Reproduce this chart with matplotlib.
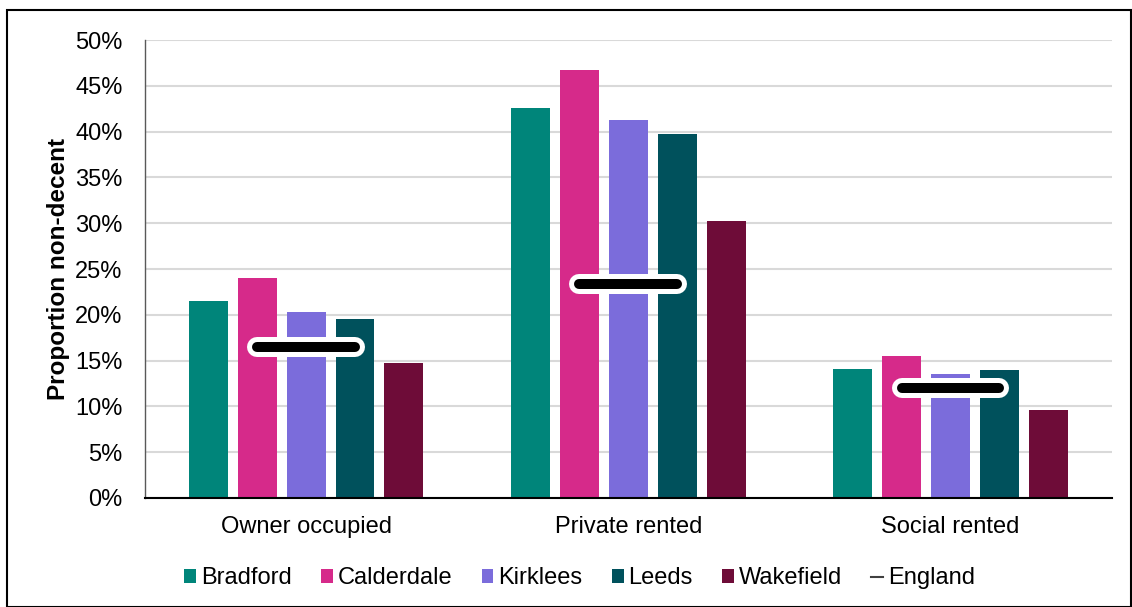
import matplotlib
matplotlib.use("Agg")
import matplotlib.pyplot as plt
import matplotlib.patheffects as pe
from matplotlib.patches import Rectangle
from matplotlib.lines import Line2D
import numpy as np

plt.rcParams['font.family'] = ['Liberation Sans', 'DejaVu Sans']

categories = ["Owner occupied", "Private rented", "Social rented"]
areas = ["Bradford", "Calderdale", "Kirklees", "Leeds", "Wakefield"]
values = {
    "Bradford":   [21.5, 42.6, 14.1],
    "Calderdale": [24.0, 46.7, 15.5],
    "Kirklees":   [20.3, 41.3, 13.5],
    "Leeds":      [19.5, 39.7, 14.0],
    "Wakefield":  [14.7, 30.2, 9.6],
}
england = [16.5, 23.4, 12.0]
colors = ["#00857a", "#d62a8a", "#7b6cdb", "#00515c", "#6e0c38"]
yticks = [0, 5, 10, 15, 20, 25, 30, 35, 40, 45, 50]

fig = plt.figure(figsize=(11.32, 6.07), dpi=100)
ax = fig.add_axes([0.128, 0.1796, 0.854, 0.7544])

x = np.arange(len(categories))
width = 0.121
step = 0.152
for i, (name, c) in enumerate(zip(areas, colors)):
    ax.bar(x + (i - 2) * step, values[name], width=width, color=c, label=name, zorder=2)

half = 0.152
for xi, v in zip(x, england):
    ax.plot([xi - half, xi + half], [v, v], color="black", lw=7.2, solid_capstyle="round",
            zorder=4, path_effects=[pe.Stroke(linewidth=14.4, foreground="white"), pe.Normal()])

ax.set_xlim(-0.5, 2.5)
ax.set_ylim(0, 50)
ax.set_yticks(yticks)
ax.set_yticklabels([f"{t}%" for t in yticks])
ax.set_xticks(x)
ax.set_xticklabels(categories)
ax.tick_params(axis='both', labelsize=17, length=0, colors='black')
ax.tick_params(axis='x', pad=13)
ax.tick_params(axis='y', pad=16)
ax.grid(axis='y', color='#d9d9d9', lw=1.5, zorder=0)
ax.set_axisbelow(True)
for s in ["top", "right"]:
    ax.spines[s].set_visible(False)
ax.spines["left"].set_color("#595959")
ax.spines["left"].set_linewidth(1)
ax.spines["bottom"].set_color("black")
ax.spines["bottom"].set_linewidth(1.5)
ax.set_ylabel("Proportion non-decent", fontsize=17.5, fontweight='bold', labelpad=4)

handles, labels = ax.get_legend_handles_labels()
handles.append(Line2D([0], [0], color="#404040", lw=1.5))
labels.append("England")
leg = fig.legend(handles, labels, loc='center', bbox_to_anchor=(0.512, 0.047), ncol=6,
                 frameon=False, fontsize=17, handlelength=0.5, handleheight=0.5,
                 handletextpad=0.2, columnspacing=1.25)

fig.patches.append(Rectangle((7 / 1132, 0), 1 - 7 / 1132 - 0.0005, 1 - 10 / 607, transform=fig.transFigure,
                             fill=False, edgecolor='black', lw=1.5, clip_on=False))

fig.savefig("out.png", dpi=100)
